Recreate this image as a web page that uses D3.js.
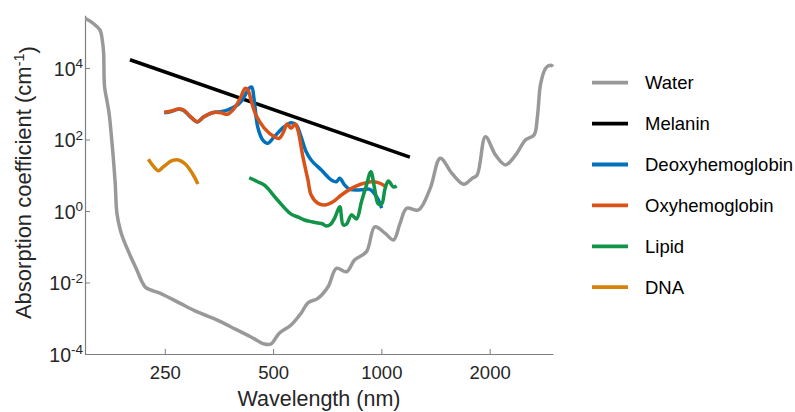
<!DOCTYPE html>
<html>
<head>
<meta charset="utf-8">
<script src="https://cdn.jsdelivr.net/npm/d3@7"></script>
<style>
  html, body { margin: 0; padding: 0; background: #fff; }
  svg { display: block; font-family: "Liberation Sans", Arial, Helvetica, sans-serif; }
</style>
</head>
<body>
<svg id="chart" width="795" height="412"></svg>
<script>
// Absorption spectra of tissue chromophores: [wavelength (nm), absorption coefficient (cm^-1)]
const water = [
  [150, 2.45e5], [158, 1.78e5], [165, 1.16e5], [168, 4.9e4], [169, 2.6e4], [170, 3.0e3],
  [172.5, 1270], [175, 540], [178, 97], [180, 26.7], [182, 6.0], [184, 0.86], [188, 0.295],
  [192, 0.155], [200, 0.059], [209, 0.0224], [216, 0.0105], [221, 0.0073], [228, 0.0062],
  [243, 0.0050], [276, 0.0026], [308, 0.0015], [350, 8.9e-4], [381, 5.8e-4], [434, 3.0e-4],
  [473, 1.9e-4], [493, 1.9e-4], [520, 3.8e-4], [561, 6.5e-4], [598, 1.38e-3], [625, 2.7e-3],
  [666, 3.6e-3], [711, 7.6e-3], [750, 0.025], [800, 0.020], [843, 0.043], [909, 0.073],
  [959, 0.36], [1023, 0.24], [1080, 0.155], [1127, 0.45], [1176, 1.19], [1268, 1.07],
  [1367, 4.3], [1458, 30], [1571, 11.3], [1695, 5.6], [1788, 8.2], [1846, 10.2], [1947, 120],
  [2076, 37], [2214, 19.5], [2362, 37], [2519, 98], [2658, 134], [2715, 434], [2773, 3700],
  [2865, 1.0e4], [2958, 1.2e4], [3000, 1.1e4]
];
const melanin = [[200, 1.7e4], [1200, 32]];
const deoxyhemoglobin = [
  [249, 560], [259, 600], [273, 700], [282, 650], [295, 420], [308, 310], [321, 430],
  [339, 560], [358, 600], [373, 668], [398, 923], [410, 1250], [420, 1900], [430, 2800],
  [436, 2940], [443, 1274], [453, 228], [468, 97], [483, 78], [504, 120], [537, 228],
  [561, 295], [580, 255], [598, 120], [618, 45.6], [638, 26.7], [681, 14], [726, 7.4],
  [750, 6.6], [766, 8.2], [791, 5.3], [817, 4.05], [880, 3.9], [929, 4.05], [970, 2.5],
  [1002, 1.2]
];
const oxyhemoglobin = [
  [249, 577], [259, 615], [273, 713], [282, 668], [295, 434], [308, 315], [321, 434],
  [339, 563], [358, 563], [373, 507], [390, 747], [407, 1574], [418, 2700], [426, 2425],
  [434, 1274], [448, 484], [473, 206], [504, 120], [520, 108], [535, 165], [547, 272],
  [561, 206], [576, 272], [586, 184], [605, 33], [625, 7.4], [638, 2.8], [666, 1.64],
  [695, 1.47], [734, 1.82], [774, 2.8], [826, 4.3], [880, 5.7], [939, 6.6], [980, 6.2],
  [1023, 5.0]
];
const lipid = [
  [429, 8.5], [450, 6.8], [473, 5.3], [515, 2.0], [561, 0.82], [590, 0.66], [611, 0.56],
  [640, 0.5], [666, 0.46], [685, 0.44], [703, 0.38], [722, 0.42], [742, 0.64], [766, 1.32],
  [783, 0.41], [800, 0.43], [826, 0.78], [853, 0.60], [880, 1.8], [909, 5.3], [935, 12.6],
  [959, 3.9], [980, 1.57], [1002, 1.57], [1023, 4.1], [1046, 6.9], [1080, 4.7], [1103, 5.0]
];
const dna = [
  [225, 27.9], [233, 17.4], [240, 13.4], [248, 17.4], [262, 25.5], [273, 26.7],
  [285, 20.7], [298, 11.4], [309, 5.7]
];

const seriesNames = ["Water", "Melanin", "Deoxyhemoglobin", "Oxyhemoglobin", "Lipid", "DNA"];
const seriesData = [water, melanin, deoxyhemoglobin, oxyhemoglobin, lipid, dna];
const seriesColors = ["#999999", "#000000", "#0072BD", "#D95319", "#119447", "#D4820C"];

const xTicks = [250, 500, 1000, 2000];
const yTicks = [1e-4, 1e-2, 1e0, 1e2, 1e4];
const yTickExponents = ["-4", "-2", "0", "2", "4"];

const xLabel = "Wavelength (nm)";
const yLabel = "Absorption coefficient (cm";

const svg = d3.select("#chart");
const plot = { left: 85, right: 553, top: 15.2, bottom: 354 };

const x = d3.scaleLog().domain([150, 3000]).range([plot.left, plot.right]);
const y = d3.scaleLog().domain([1e-4, 3e5]).range([plot.bottom, plot.top]);

const textColor = "#262626";
const axisColor = "#7f7f7f";

// x axis
const gx = svg.append("g")
  .attr("transform", `translate(0,${plot.bottom})`)
  .call(d3.axisBottom(x).tickValues(xTicks).tickFormat(d3.format("d"))
    .tickSizeInner(-5).tickSizeOuter(0).tickPadding(12));
gx.select(".domain").attr("stroke", axisColor).attr("stroke-width", 1.2);
gx.selectAll(".tick line").attr("stroke", axisColor).attr("stroke-width", 1);
gx.selectAll(".tick text").attr("fill", textColor).style("font-size", "18.5px")
  .style("font-family", '"Liberation Sans", Arial, sans-serif');

// y axis
const gy = svg.append("g")
  .attr("transform", `translate(${plot.left},0)`)
  .call(d3.axisLeft(y).tickValues(yTicks).tickFormat(() => "")
    .tickSizeInner(-5).tickSizeOuter(0));
gy.select(".domain").attr("stroke", axisColor).attr("stroke-width", 1.2);
gy.selectAll(".tick line").attr("stroke", axisColor).attr("stroke-width", 1);
gy.selectAll(".tick text").remove();
gy.selectAll(".tick").each(function (d, i) {
  const t = d3.select(this).append("text")
    .attr("x", -2).attr("y", 0).attr("dy", "0.36em")
    .attr("text-anchor", "end").attr("fill", textColor)
    .style("font-size", "19.5px")
    .style("font-family", '"Liberation Sans", Arial, sans-serif');
  t.append("tspan").text("10");
  t.append("tspan").attr("dy", "-0.55em").style("font-size", "13.5px").text(yTickExponents[i]);
});

// axis titles
svg.append("text")
  .attr("x", (plot.left + plot.right) / 2).attr("y", 406)
  .attr("text-anchor", "middle").attr("fill", textColor)
  .style("font-size", "21.5px").text(xLabel);

const yt = svg.append("text")
  .attr("transform", `translate(31,${(plot.top + plot.bottom) / 2 - 2}) rotate(-90)`)
  .attr("text-anchor", "middle").attr("fill", textColor)
  .style("font-size", "22px");
yt.append("tspan").text(yLabel);
yt.append("tspan").attr("dy", "-0.5em").style("font-size", "14.5px").text("-1");
yt.append("tspan").attr("dy", "0.5em").text(")");

// spectra
const line = d3.line()
  .x(d => x(d[0]))
  .y(d => y(d[1]))
  .curve(d3.curveCatmullRom.alpha(0.5));

svg.append("clipPath").attr("id", "plot-clip")
  .append("rect").attr("x", plot.left).attr("y", plot.top - 4)
  .attr("width", plot.right - plot.left + 2).attr("height", plot.bottom - plot.top + 4);

const lines = svg.append("g").attr("clip-path", "url(#plot-clip)");
seriesData.forEach((data, i) => {
  lines.append("path")
    .datum(data)
    .attr("fill", "none")
    .attr("stroke", seriesColors[i])
    .attr("stroke-width", 3.5)
    .attr("stroke-linejoin", "round")
    .attr("stroke-linecap", "butt")
    .attr("d", line);
});

// legend
const legend = svg.append("g");
seriesNames.forEach((name, i) => {
  const ly = 82.7 + i * 40.9;
  legend.append("line")
    .attr("x1", 592).attr("x2", 628).attr("y1", ly).attr("y2", ly)
    .attr("stroke", seriesColors[i]).attr("stroke-width", 3.8);
  legend.append("text")
    .attr("x", 645).attr("y", ly + 6.6)
    .attr("fill", "#000").style("font-size", "18.5px")
    .text(name);
});
</script>
</body>
</html>
